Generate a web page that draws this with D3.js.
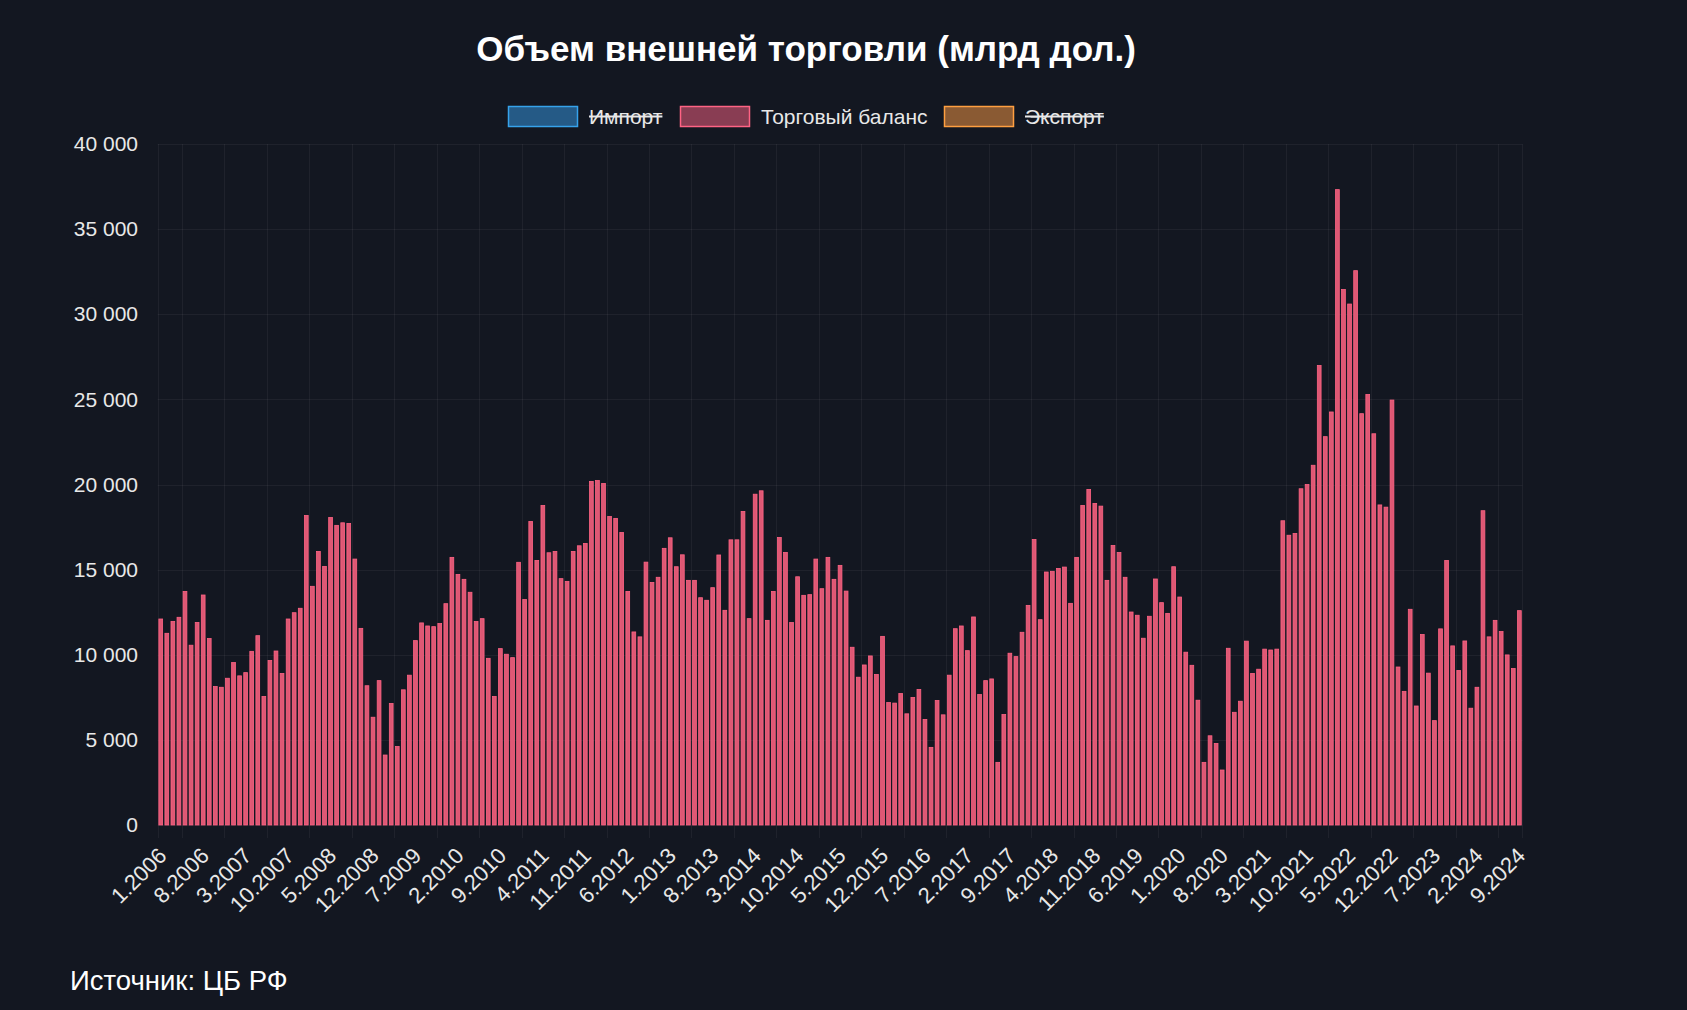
<!DOCTYPE html>
<html>
<head>
<meta charset="utf-8">
<script src="https://cdn.jsdelivr.net/npm/d3@7"></script>
<style>
  html, body { margin: 0; padding: 0; background: #131721; }
  svg { display: block; }
  text { font-family: "Liberation Sans", Arial, Helvetica, sans-serif; }
</style>
</head>
<body>
<svg id="chart" width="1687" height="1010"></svg>
<script>
// ---- Data ----
const title = "Объем внешней торговли (млрд дол.)";
const sourceText = "Источник: ЦБ РФ";
const startYear = 2006;
const startMonth = 1;

// Trade balance, monthly, 1.2006 – 9.2024
const tradeBalance = [
  12100, 11260, 11960, 12200, 13720, 10560, 11900, 13510, 10950, 8130, 8090, 8620,
  9540, 8760, 8950, 10200, 11120, 7550, 9660, 10220, 8900, 12100, 12470, 12730,
  18180, 14020, 16070, 15190, 18060, 17600, 17750, 17710, 15620, 11550, 8180, 6330,
  8480, 4110, 7140, 4610, 7940, 8800, 10830, 11870, 11690, 11650, 11830, 13000,
  15720, 14720, 14430, 13670, 11950, 12120, 9790, 7550, 10360, 10030, 9830, 15430,
  13240, 17830, 15540, 18770, 15990, 16070, 14470, 14310, 16070, 16400, 16540, 20180,
  20230, 20060, 18120, 18010, 17180, 13720, 11340, 11050, 15440, 14250, 14550, 16250,
  16870, 15170, 15870, 14370, 14370, 13350, 13200, 13940, 15860, 12610, 16750, 16750,
  18420, 12120, 19430, 19630, 12020, 13720, 16890, 16010, 11890, 14580, 13490, 13530,
  15620, 13880, 15720, 14430, 15250, 13740, 10440, 8680, 9400, 9930, 8840, 11080,
  7190, 7160, 7720, 6530, 7490, 7960, 6200, 4560, 7310, 6470, 8800, 11530,
  11690, 10240, 12220, 7660, 8480, 8580, 3680, 6490, 10090, 9890, 11320, 12900,
  16770, 12060, 14860, 14900, 15070, 15150, 13020, 15720, 18770, 19710, 18890, 18730,
  14370, 16420, 16010, 14550, 12510, 12320, 10970, 12260, 14450, 13060, 12430, 15170,
  13390, 10150, 9380, 7330, 3680, 5240, 4790, 3230, 10380, 6620, 7270, 10800,
  8900, 9150, 10330, 10280, 10330, 17870, 17020, 17120, 19750, 20000, 21130, 26990,
  22810, 24260, 37320, 31450, 30600, 32560, 24160, 25290, 22980, 18800, 18670, 24960,
  9280, 7850, 12670, 6990, 11190, 8920, 6130, 11520, 15540, 10520, 9070, 10810,
  6860, 8090, 18460, 11050, 12020, 11360, 9990, 9190, 12590
];

const xTickLabels = [
  "1.2006", "8.2006", "3.2007", "10.2007", "5.2008", "12.2008", "7.2009", "2.2010",
  "9.2010", "4.2011", "11.2011", "6.2012", "1.2013", "8.2013", "3.2014", "10.2014",
  "5.2015", "12.2015", "7.2016", "2.2017", "9.2017", "4.2018", "11.2018", "6.2019",
  "1.2020", "8.2020", "3.2021", "10.2021", "5.2022", "12.2022", "7.2023", "2.2024", "9.2024"
];
const yTicks = [0, 5000, 10000, 15000, 20000, 25000, 30000, 35000, 40000];

const legendItems = [
  { name: "Импорт", fill: "#255a86", stroke: "#36a2eb", hidden: true },
  { name: "Торговый баланс", fill: "#893d53", stroke: "#ff6384", hidden: false },
  { name: "Экспорт", fill: "#8a5a33", stroke: "#ff9f40", hidden: true }
];

// month categories
const categories = tradeBalance.map((_, i) => {
  const m = (startMonth - 1 + i) % 12 + 1;
  const y = startYear + Math.floor((startMonth - 1 + i) / 12);
  return m + "." + y;
});

// ---- Layout ----
const svg = d3.select("#chart");
const W = 1687, H = 1010;
const plot = { left: 157.7, right: 1522.4, top: 144, bottom: 825 };

svg.append("rect").attr("width", W).attr("height", H).attr("fill", "#131721");

const x = d3.scaleBand().domain(categories).range([plot.left, plot.right]).paddingInner(0).paddingOuter(0);
const y = d3.scaleLinear().domain([0, 40000]).range([plot.bottom, plot.top]);

const gridColor = "rgba(255,255,255,0.05)";

// horizontal grid
svg.append("g").selectAll("line").data(yTicks).join("line")
  .attr("x1", plot.left).attr("x2", plot.right)
  .attr("y1", d => Math.round(y(d)) + 0.5).attr("y2", d => Math.round(y(d)) + 0.5)
  .attr("stroke", gridColor).attr("stroke-width", 1);

// vertical grid: midpoint between shown ticks (offset grid)
const shownIdx = xTickLabels.map(l => categories.indexOf(l));
const gridX = [plot.left];
for (let k = 1; k < shownIdx.length; k++) {
  const a = x(categories[shownIdx[k - 1]]) + x.bandwidth() / 2;
  const b = x(categories[shownIdx[k]]) + x.bandwidth() / 2;
  gridX.push((a + b) / 2);
}
gridX.push(plot.right);
svg.append("g").selectAll("line").data(gridX).join("line")
  .attr("x1", d => Math.round(d) + 0.5).attr("x2", d => Math.round(d) + 0.5)
  .attr("y1", plot.top).attr("y2", plot.bottom + 13)
  .attr("stroke", gridColor).attr("stroke-width", 1);

// bars
const barW = x.bandwidth() * 0.62;
svg.append("g").selectAll("rect").data(tradeBalance).join("rect")
  .attr("x", (d, i) => x(categories[i]) + (x.bandwidth() - barW) / 2)
  .attr("y", d => y(d))
  .attr("width", barW)
  .attr("height", d => y(0) - y(d))
  .attr("fill", "#de5874")
  .attr("stroke", "#ff6384")
  .attr("stroke-width", 0.8);

// y axis labels
const yAxis = d3.axisLeft(y).tickValues(yTicks).tickSize(0).tickPadding(0)
  .tickFormat(d => d3.format(",")(d).replace(/,/g, " "));
const gy = svg.append("g").attr("transform", `translate(${138},0)`).call(yAxis);
gy.select(".domain").remove();
gy.selectAll("text").attr("fill", "#e8e8e8").attr("font-size", 21)
  .attr("font-family", "'Liberation Sans', Arial, sans-serif");

// x axis labels
const xAxis = d3.axisBottom(x).tickValues(xTickLabels).tickSize(0).tickPadding(0);
const gx = svg.append("g").attr("transform", `translate(0,${plot.bottom})`).call(xAxis);
gx.select(".domain").remove();
gx.selectAll("text")
  .attr("fill", "#e8e8e8").attr("font-size", 22)
  .attr("font-family", "'Liberation Sans', Arial, sans-serif")
  .attr("text-anchor", "end")
  .attr("dy", "0.72em")
  .attr("transform", "translate(-4,21) rotate(-45)");

// title
svg.append("text").attr("x", 806).attr("y", 61).attr("text-anchor", "middle")
  .attr("fill", "#ffffff").attr("font-size", 35).attr("font-weight", "bold")
  .text(title);

// legend
const legendX = [508, 680, 944];
const lg = svg.append("g");
legendItems.forEach((it, i) => {
  const g = lg.append("g").attr("transform", `translate(${legendX[i]},106)`);
  g.append("rect").attr("x", 0.5).attr("y", 0.5).attr("width", 69).attr("height", 20)
    .attr("fill", it.fill).attr("stroke", it.stroke).attr("stroke-width", 1.5);
  const t = g.append("text").attr("x", 81).attr("y", 18).attr("fill", "#e8e8e8")
    .attr("font-size", 21).text(it.name);
  if (it.hidden) {
    const w = t.node().getComputedTextLength();
    g.append("line").attr("x1", 81).attr("x2", 81 + w).attr("y1", 10.5).attr("y2", 10.5)
      .attr("stroke", "#e8e8e8").attr("stroke-width", 2);
  }
});

// source
svg.append("text").attr("x", 70).attr("y", 990).attr("fill", "#ffffff")
  .attr("font-size", 27.5).text(sourceText);
</script>
</body>
</html>
